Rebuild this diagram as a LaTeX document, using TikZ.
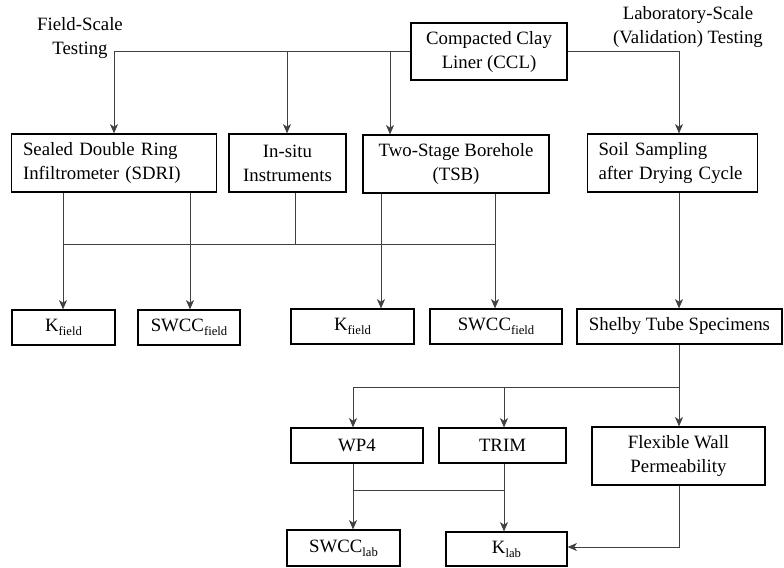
\documentclass[tikz,border=0pt]{standalone}
\usepackage{fontspec}
\setmainfont{Liberation Serif}
\usetikzlibrary{arrows.meta}
\newcommand\mysub[1]{\raisebox{-0.45ex}{\fontsize{9.5}{10}\selectfont #1}}
\begin{document}
\begin{tikzpicture}[x=0.75pt,y=-0.75pt,
  every node/.style={font=\fontsize{14.1}{18}\selectfont},
  box/.style={draw=black,line width=0.9pt,inner sep=0pt,align=center},
  lbox/.style={draw=black,line width=0.9pt,inner ysep=0pt,inner xsep=8.5pt,align=left},
  conn/.style={draw=black!75,line width=0.6pt},
  arr/.style={conn,-{Stealth[length=7pt,width=6pt,inset=2pt]}}]
\useasboundingbox (0,0) rectangle (784,567);
% boxes
\node[box,minimum width=156*0.75pt,minimum height=57*0.75pt] (ccl) at (489,51.5) {Compacted Clay\\Liner (CCL)};
\node[lbox,text width=182*0.75pt,minimum height=58*0.75pt] (sdri) at (114,163) {Sealed Double Ring\\Infiltrometer (SDRI)};
\node[box,minimum width=117*0.75pt,minimum height=58*0.75pt] (insitu) at (287.5,163) {In-situ\\Instruments};
\node[box,minimum width=186*0.75pt,minimum height=58*0.75pt] (tsb) at (456,164) {Two-Stage Borehole\\(TSB)};
\node[lbox,text width=148*0.75pt,minimum height=58*0.75pt] (soil) at (672.5,163) {Soil Sampling\\after Drying Cycle};
\node[box,minimum width=103*0.75pt,minimum height=35*0.75pt] (kf1) at (63.5,327.5) {K\mysub{field}};
\node[box,minimum width=102*0.75pt,minimum height=35*0.75pt] (sf1) at (189,327.5) {SWCC\mysub{field}};
\node[box,minimum width=123*0.75pt,minimum height=35*0.75pt] (kf2) at (352.5,326.5) {K\mysub{field}};
\node[box,minimum width=132*0.75pt,minimum height=35*0.75pt] (sf2) at (496,326.5) {SWCC\mysub{field}};
\node[box,minimum width=205*0.75pt,minimum height=35*0.75pt] (shelby) at (679.5,326.5) {Shelby Tube Specimens};
\node[box,minimum width=132*0.75pt,minimum height=35*0.75pt] (wp4) at (357,445.5) {WP4};
\node[box,minimum width=127*0.75pt,minimum height=35*0.75pt] (trim) at (502.5,445.5) {TRIM};
\node[box,minimum width=173*0.75pt,minimum height=58*0.75pt] (flex) at (678.5,456) {Flexible Wall\\Permeability};
\node[box,minimum width=113*0.75pt,minimum height=36*0.75pt] (slab) at (343.5,548) {SWCC\mysub{lab}};
\node[box,minimum width=121*0.75pt,minimum height=34*0.75pt] (klab) at (506.5,549) {K\mysub{lab}};
% labels
\node[align=center] (fst) at (80,38) {Field-Scale\\Testing};
\node[align=center] (lst) at (688,27) {Laboratory-Scale\\(Validation) Testing};
% junction coordinates
\coordinate (t1) at (114,51);
\coordinate (t2) at (287,51);
\coordinate (t3) at (390,51);
\coordinate (t4) at (679,51);
\coordinate (h1) at (63,244);
\coordinate (h2) at (190,244);
\coordinate (h3) at (295,244);
\coordinate (h4) at (381,244);
\coordinate (h5) at (495,244);
\coordinate (s1) at (679,387);
\coordinate (s2) at (353,387);
\coordinate (s3) at (504,387);
\coordinate (l1) at (353,490);
\coordinate (l2) at (504,490);
\coordinate (f1) at (679,547);
% top connectors
\draw[conn] (ccl.west |- t1) -- (t1);
\draw[conn] (ccl.east |- t4) -- (t4);
\draw[arr] (t1) -- (t1 |- sdri.north);
\draw[arr] (t2) -- (t2 |- insitu.north);
\draw[arr] (t3) -- (t3 |- tsb.north);
\draw[arr] (t4) -- (t4 |- soil.north);
% field connectors
\draw[conn] (h1) -- (h5);
\draw[conn] (h3 |- insitu.south) -- (h3);
\draw[arr] (h1 |- sdri.south) -- (h1 |- kf1.north);
\draw[arr] (h2 |- sdri.south) -- (h2 |- sf1.north);
\draw[arr] (h4 |- tsb.south) -- (h4 |- kf2.north);
\draw[arr] (h5 |- tsb.south) -- (h5 |- sf2.north);
\draw[arr] (t4 |- soil.south) -- (t4 |- shelby.north);
% lab connectors
\draw[conn] (s1 |- shelby.south) -- (s1) -- (s2);
\draw[arr] (s2) -- (s2 |- wp4.north);
\draw[arr] (s3) -- (s3 |- trim.north);
\draw[arr] (s1) -- (s1 |- flex.north);
\draw[conn] (l1) -- (l2);
\draw[arr] (l1 |- wp4.south) -- (l1 |- slab.north);
\draw[arr] (l2 |- trim.south) -- (l2 |- klab.north);
\draw[arr] (f1 |- flex.south) -- (f1) -- (klab.east |- f1);
\end{tikzpicture}
\end{document}
